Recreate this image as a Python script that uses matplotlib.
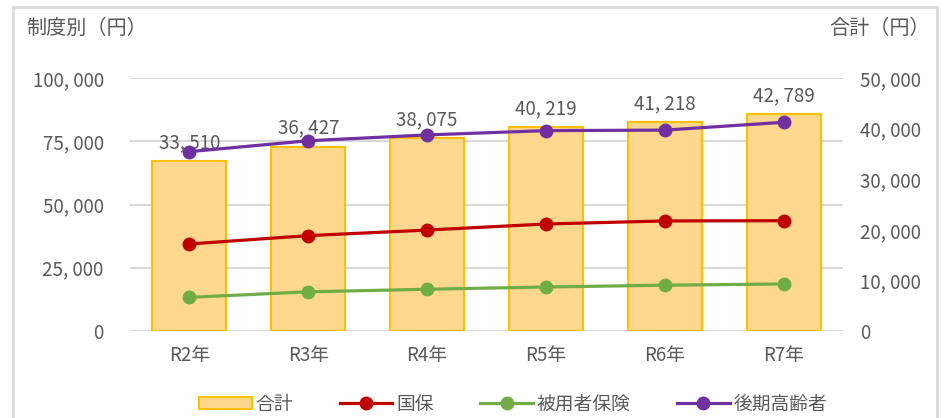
import matplotlib
matplotlib.use('Agg')

import matplotlib.pyplot as plt
from matplotlib.patches import Rectangle, Patch
from matplotlib.lines import Line2D

plt.rcParams['font.family'] = ['Noto Sans CJK JP', 'DejaVu Sans']

# Data
years = ['R2年', 'R3年', 'R4年', 'R5年', 'R6年', 'R7年']
total = [33510, 36427, 38075, 40219, 41218, 42789]
kokuho = [34400, 37700, 39900, 42300, 43500, 43600]
hiyosha = [13300, 15500, 16500, 17400, 18100, 18600]
kouki = [70900, 75200, 77500, 79200, 79400, 82500]

left_ticks = [0, 25000, 50000, 75000, 100000]
right_ticks = [0, 10000, 20000, 30000, 40000, 50000]

TEXT = '#595959'
GRID = '#D9D9D9'
FS = 13.5


def fmt(v):
    return f'{v:,}'.replace(',', ', ')


fig = plt.figure(figsize=(9.52, 4.18), dpi=100)
ax = fig.add_axes([0.1366, 0.2081, 0.7489, 0.6053])   # left scale, grid
ax2 = ax.twinx()                                       # right scale, bars
ax3 = ax.twinx()                                       # left scale, lines
ax.set_zorder(1)
ax2.set_zorder(2)
ax3.set_zorder(3)
for a in (ax2, ax3):
    a.patch.set_visible(False)

x = list(range(len(years)))

# grid on left scale
ax.set_ylim(0, 100000)
ax.set_yticks(left_ticks)
ax.set_yticklabels([fmt(v) for v in left_ticks])
ax.yaxis.grid(True, color=GRID, linewidth=1.5)
ax.set_axisbelow(True)
ax.tick_params(axis='y', length=0, pad=19, labelsize=FS, labelcolor=TEXT)
ax.tick_params(axis='x', length=0, pad=10, labelsize=FS, labelcolor=TEXT)
ax.set_xticks(x)
ax.set_xticklabels(years)
ax.set_xlim(-0.5, len(years) - 0.5)

# bars on right scale
bars = ax2.bar(x, total, width=0.623, color='#FED88E', edgecolor='#FFC000',
               linewidth=1.5)
ax2.set_ylim(0, 50000)
ax2.set_yticks(right_ticks)
ax2.set_yticklabels([fmt(v) for v in right_ticks])
ax2.tick_params(axis='y', length=0, pad=12, labelsize=FS, labelcolor=TEXT)
for xi, v in zip(x, total):
    ax2.annotate(fmt(v), (xi, v), xytext=(0, 6), textcoords='offset points',
                 ha='center', va='bottom', fontsize=FS, color=TEXT)

# lines on left scale
ax3.set_ylim(0, 100000)
ax3.set_yticks([])
series = [(kokuho, '#C00000', '国保'), (hiyosha, '#70AD47', '被用者保険'),
          (kouki, '#7030A0', '後期高齢者')]
for vals, col, name in series:
    ax3.plot(x, vals, color=col, linewidth=2.3, marker='o', markersize=9,
             solid_capstyle='round')

for a in (ax, ax2, ax3):
    for s in a.spines.values():
        s.set_visible(False)

# axis titles
fig.text(0.028, 0.933, '制度別（円）', fontsize=14.5, color=TEXT, va='center', ha='left')
fig.text(0.977, 0.933, '合計（円）', fontsize=14.5, color=TEXT, va='center', ha='right')

# legend
handles = [Patch(facecolor='#FED88E', edgecolor='#FFC000', linewidth=1.5)]
labels = ['合計']
for vals, col, name in series:
    handles.append(Line2D([0], [0], color=col, linewidth=2.3, marker='o', markersize=9))
    labels.append(name)
fig.legend(handles, labels, loc='center', bbox_to_anchor=(0.539, 0.033), ncol=4,
           frameon=False, fontsize=FS, labelcolor=TEXT, handlelength=2.8,
           handleheight=0.6, handletextpad=0.2, columnspacing=2.5)

# outer frame
fig.patches.append(Rectangle((0.0137, -0.1), 0.9706, 1.083, transform=fig.transFigure,
                             fill=False, edgecolor=GRID, linewidth=2))

fig.savefig('out.png', dpi=100)
